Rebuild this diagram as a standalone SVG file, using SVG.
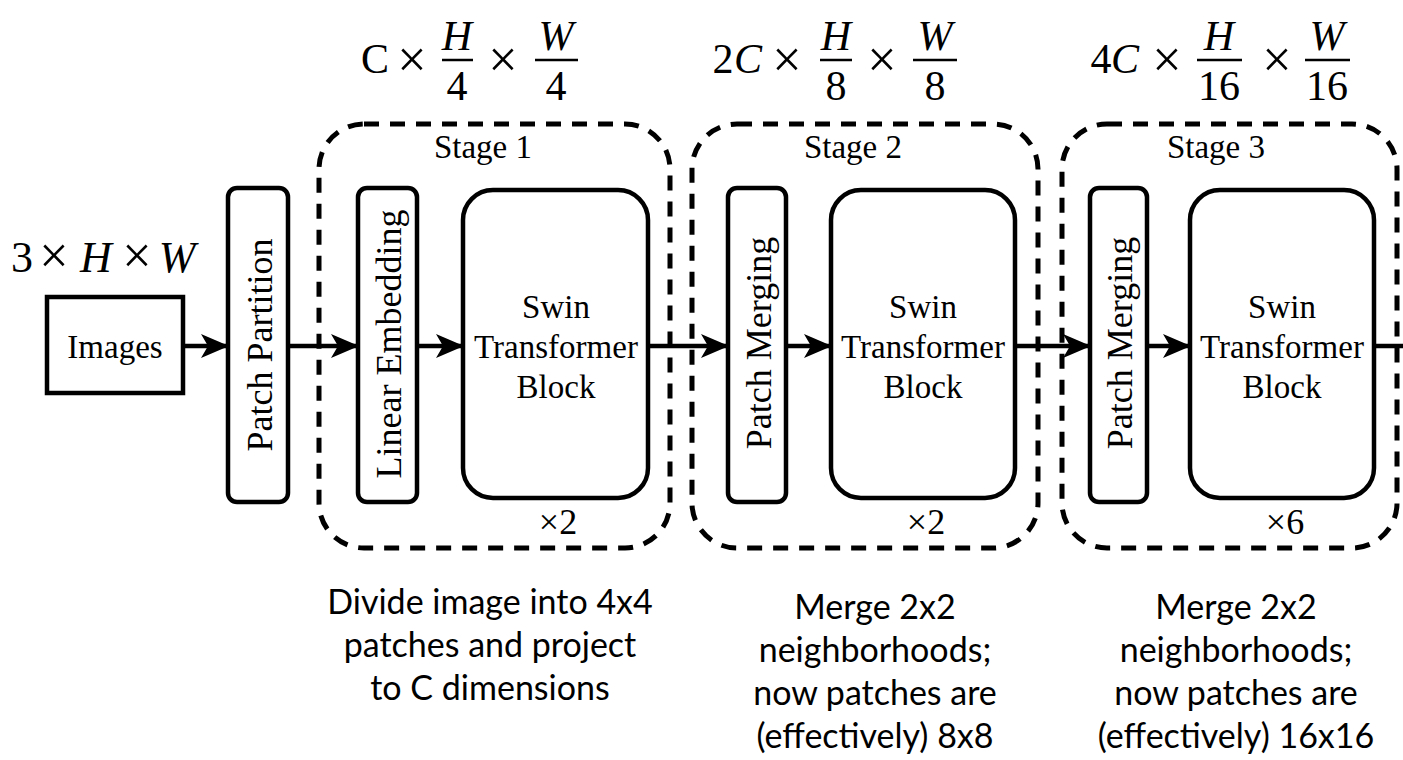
<svg xmlns="http://www.w3.org/2000/svg" width="1403" height="760" viewBox="0 0 1403 760">
<style>
.box{fill:#fff;stroke:#000;stroke-width:4.5}
.stage{fill:none;stroke:#000;stroke-width:5;stroke-dasharray:15 11}
.con{fill:none;stroke:#000;stroke-width:4.5}
.serif{font-family:"Liberation Serif","Times New Roman",serif;fill:#000}
.lbl{font-size:33px;text-anchor:middle}
.vlbl{font-size:36px;text-anchor:middle}
.stg{font-size:33px;text-anchor:middle}
.rep{font-size:36px;text-anchor:middle}
.math{font-family:"Liberation Serif","Times New Roman",serif;font-size:42px;text-anchor:middle;fill:#000}
.mi{font-style:italic}
.times{font-family:"Liberation Serif","Times New Roman",serif;font-size:52px;text-anchor:middle;fill:#000}
.bar{stroke:#000;stroke-width:2.5}
.note{font-family:Lato,"Open Sans",sans-serif;font-size:34px;text-anchor:middle;fill:#000}
</style>
<defs>
<marker id="arr" viewBox="0 0 28 26" refX="27" refY="13" markerWidth="28" markerHeight="26" markerUnits="userSpaceOnUse" orient="auto">
<path d="M0,1 L28,13 L0,25 L7,13 Z" fill="#000"/>
</marker>
</defs>

<!-- dimension formulas -->
<g id="dim0">
<text class="math" x="22" y="272" style="font-size:44px">3</text>
<text class="times" x="54" y="273">×</text>
<text class="math mi" x="96" y="272" style="font-size:44px">H</text>
<text class="times" x="137" y="273">×</text>
<text class="math mi" x="177" y="272" style="font-size:44px">W</text>
</g>
<g id="dim1">
<text class="math" x="375" y="73">C</text>
<text class="times" x="412" y="77">×</text>
<text class="math mi" x="457" y="50">H</text>
<line class="bar" x1="442" y1="60" x2="473" y2="60"/>
<text class="math" x="457" y="100">4</text>
<text class="times" x="503" y="77">×</text>
<text class="math mi" x="556" y="50">W</text>
<line class="bar" x1="535" y1="60" x2="578" y2="60"/>
<text class="math" x="556" y="100">4</text>
</g>
<g id="dim2">
<text class="math" x="723" y="73">2</text>
<text class="math mi" x="748" y="73">C</text>
<text class="times" x="787" y="77">×</text>
<text class="math mi" x="836" y="50">H</text>
<line class="bar" x1="820" y1="60" x2="852" y2="60"/>
<text class="math" x="836" y="100">8</text>
<text class="times" x="882" y="77">×</text>
<text class="math mi" x="935" y="50">W</text>
<line class="bar" x1="913" y1="60" x2="957" y2="60"/>
<text class="math" x="935" y="100">8</text>
</g>
<g id="dim3">
<text class="math" x="1101" y="73">4</text>
<text class="math mi" x="1125" y="73">C</text>
<text class="times" x="1167" y="77">×</text>
<text class="math mi" x="1219" y="50">H</text>
<line class="bar" x1="1197" y1="60" x2="1242" y2="60"/>
<text class="math" x="1219" y="100">16</text>
<text class="times" x="1277" y="77">×</text>
<text class="math mi" x="1327" y="50">W</text>
<line class="bar" x1="1305" y1="60" x2="1350" y2="60"/>
<text class="math" x="1327" y="100">16</text>
</g>

<!-- stages -->
<g id="stage1">
<rect class="stage" x="319" y="124" width="351" height="424" rx="45" ry="45"/>
<text class="serif stg" x="483" y="158">Stage 1</text>
<text class="serif rep" x="558" y="534">×2</text>
</g>
<g id="stage2">
<rect class="stage" x="692" y="124" width="346" height="424" rx="45" ry="45"/>
<text class="serif stg" x="853" y="158">Stage 2</text>
<text class="serif rep" x="926" y="534">×2</text>
</g>
<g id="stage3">
<rect class="stage" x="1062" y="124" width="335" height="424" rx="45" ry="45"/>
<text class="serif stg" x="1216" y="158">Stage 3</text>
<text class="serif rep" x="1285" y="534">×6</text>
</g>

<!-- connectors -->
<g id="connectors">
<line class="con" x1="183" y1="346" x2="228" y2="346" marker-end="url(#arr)"/>
<line class="con" x1="288" y1="346" x2="358" y2="346" marker-end="url(#arr)"/>
<line class="con" x1="417" y1="346" x2="463" y2="346" marker-end="url(#arr)"/>
<line class="con" x1="648" y1="346" x2="728" y2="346" marker-end="url(#arr)"/>
<line class="con" x1="786" y1="346" x2="831" y2="346" marker-end="url(#arr)"/>
<line class="con" x1="1015" y1="346" x2="1090" y2="346" marker-end="url(#arr)"/>
<line class="con" x1="1147" y1="346" x2="1190" y2="346" marker-end="url(#arr)"/>
<line class="con" x1="1374" y1="346" x2="1403" y2="346"/>
</g>

<!-- nodes -->
<g id="images">
<rect class="box" x="47" y="297" width="136" height="96"/>
<text class="serif" x="115" y="358" style="font-size:33px;text-anchor:middle">Images</text>
</g>
<g id="patch-partition">
<rect class="box" x="228" y="188" width="60" height="314" rx="9"/>
<text class="serif vlbl" transform="translate(272,345) rotate(-90)">Patch Partition</text>
</g>
<g id="linear-embedding">
<rect class="box" x="358" y="188" width="59" height="314" rx="9"/>
<text class="serif vlbl" transform="translate(401,344) rotate(-90)">Linear Embedding</text>
</g>
<g id="swin1">
<rect class="box" x="463" y="190" width="185" height="308" rx="30"/>
<text class="serif lbl" x="556" y="318">Swin</text>
<text class="serif lbl" x="556" y="358">Transformer</text>
<text class="serif lbl" x="556" y="398">Block</text>
</g>
<g id="patch-merging2">
<rect class="box" x="728" y="188" width="58" height="314" rx="9"/>
<text class="serif vlbl" transform="translate(771,343) rotate(-90)">Patch Merging</text>
</g>
<g id="swin2">
<rect class="box" x="831" y="190" width="184" height="308" rx="30"/>
<text class="serif lbl" x="923" y="318">Swin</text>
<text class="serif lbl" x="923" y="358">Transformer</text>
<text class="serif lbl" x="923" y="398">Block</text>
</g>
<g id="patch-merging3">
<rect class="box" x="1090" y="188" width="57" height="314" rx="9"/>
<text class="serif vlbl" transform="translate(1132,343) rotate(-90)">Patch Merging</text>
</g>
<g id="swin3">
<rect class="box" x="1190" y="190" width="184" height="308" rx="30"/>
<text class="serif lbl" x="1282" y="318">Swin</text>
<text class="serif lbl" x="1282" y="358">Transformer</text>
<text class="serif lbl" x="1282" y="398">Block</text>
</g>

<!-- notes -->
<g id="note1">
<text class="note" x="490" y="614">Divide image into 4x4</text>
<text class="note" x="490" y="657">patches and project</text>
<text class="note" x="490" y="700">to C dimensions</text>
</g>
<g id="note2">
<text class="note" x="875" y="619">Merge 2x2</text>
<text class="note" x="875" y="662">neighborhoods;</text>
<text class="note" x="875" y="705">now patches are</text>
<text class="note" x="875" y="748">(effectively) 8x8</text>
</g>
<g id="note3">
<text class="note" x="1236" y="619">Merge 2x2</text>
<text class="note" x="1236" y="662">neighborhoods;</text>
<text class="note" x="1236" y="705">now patches are</text>
<text class="note" x="1236" y="748">(effectively) 16x16</text>
</g>
</svg>
